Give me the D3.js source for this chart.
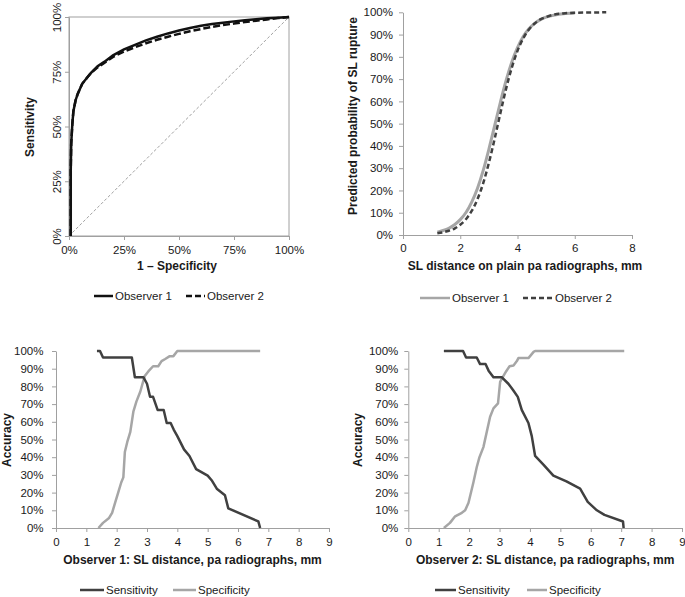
<!DOCTYPE html>
<html><head><meta charset="utf-8">
<script src="https://cdn.jsdelivr.net/npm/d3@7"></script>
<style>
body{margin:0;background:#fff;}
svg{display:block;font-family:"Liberation Sans",Arial,sans-serif;}
.tick text{font-size:11.5px;fill:#1a1a1a;}
.title{font-size:12px;font-weight:bold;fill:#1a1a1a;}
.leg{font-size:11.5px;fill:#1a1a1a;}
</style></head>
<body>
<svg id="c" width="685" height="597"></svg>
<script>
// ---------- Panel A: ROC curves ----------
const rocFpr1 = [0.8,0.8,1.0,1.5,2,3,4,6,8,10,13,16,20,25,30,35,40,45,50,55,60,65,70,75,80,85,90,95,100];
const rocTpr1 = [0,30,42,51,57,62,65,69.5,72,74.5,77.5,79.5,82.5,85.2,87.3,89.3,91,92.5,93.8,95,96,96.8,97.4,98,98.5,99,99.4,99.7,100];
const rocFpr2 = [0.8,0.8,1.0,1.5,2,3,4,6,8,10,13,16,20,25,30,35,40,45,50,55,60,65,70,75,80,85,90,95,100];
const rocTpr2 = [0,30,42,51,57,62,65,69.5,72,74.5,77,79,81.8,84.2,86.2,88,89.6,91,92.3,93.5,94.5,95.5,96.3,97,97.7,98.3,98.9,99.5,100];
const pctTicksA = [0,25,50,75,100];

// ---------- Panel B: predicted probability ----------
const probX1 = [1.2,1.4,1.6,1.8,2.0,2.2,2.4,2.6,2.8,3.0,3.2,3.4,3.6,3.8,4.0,4.2,4.4,4.6,4.8,5.0,5.3,5.6,6.0];
const probY1 = [1.3,2.0,3.0,4.6,6.9,10.1,14.8,20.9,28.9,38.5,49.0,59.5,69.3,77.6,84.1,89.1,92.6,95.0,96.7,97.8,98.8,99.4,99.7];
const probX2 = [1.2,1.4,1.6,1.8,2.0,2.2,2.4,2.6,2.8,3.0,3.2,3.4,3.6,3.8,4.0,4.2,4.4,4.6,4.8,5.0,5.3,5.6,6.0,6.5,7.1];
const probY2 = [0.8,1.2,1.9,2.9,4.6,7.1,10.8,16.0,23.2,32.4,43.1,54.6,65.6,75.1,82.7,88.3,92.3,95.0,96.8,97.9,99.0,99.5,99.8,99.9,100];
const distTicksB = [0,2,4,6,8];
const pctTicks10 = [0,10,20,30,40,50,60,70,80,90,100];

// ---------- Panel C: Observer 1 accuracy ----------
const sensX1 = [1.35,1.45,1.55,2.5,2.6,2.88,3.0,3.1,3.2,3.35,3.55,3.65,3.78,3.88,4.0,4.22,4.4,4.62,5.0,5.13,5.3,5.57,5.68,6.67,6.73];
const sensY1 = [100,100,96.3,96.3,85.2,85.2,81.5,74.1,74.1,66.7,66.7,59.3,59.3,55.6,51.9,44.4,40.7,33.3,29.6,27.0,22.2,18.5,11.1,3.7,0];
const specX1 = [1.4,1.55,1.75,1.85,1.95,2.05,2.15,2.22,2.27,2.35,2.45,2.55,2.65,2.78,2.92,3.05,3.2,3.37,3.48,3.6,3.75,3.87,4.0,6.73];
const specY1 = [0,2.9,5.7,8.6,14.3,20,25.7,28.6,42.9,48.6,54.3,65.7,71.4,77.1,85.7,88.6,91.4,91.4,94.3,95.5,97.1,97.1,100,100];

// ---------- Panel D: Observer 2 accuracy ----------
const sensX2 = [1.17,1.8,1.9,2.25,2.36,2.54,2.64,2.8,3.07,3.29,3.45,3.6,3.73,3.95,4.06,4.17,4.45,4.77,5.2,5.65,5.9,6.2,6.45,7.06,7.08];
const sensY2 = [100,100,96.3,96.3,92.6,92.6,88.9,85.2,85.2,81.5,77.8,74.1,66.7,59.3,51.9,40.7,35.7,29.6,26.3,22.2,14.8,10.0,7.4,3.7,0];
const specX2 = [1.17,1.37,1.54,1.76,1.87,1.98,2.14,2.25,2.34,2.47,2.69,2.8,2.95,3.02,3.12,3.22,3.33,3.46,3.57,3.62,3.95,4.12,4.17,7.1];
const specY2 = [0,2.9,6.6,8.6,10,14.3,25.7,34.3,40,45.7,62.9,67.6,70.4,82.6,85.7,88.6,91.4,91.8,94.3,96,96,99.5,100,100];
const distTicksCD = [0,1,2,3,4,5,6,7,8,9];

const pct = d => d + "%";
const svg = d3.select("#c");
const AX = "#a0a0a0";
const DARK = "#404040", LIGHT = "#a6a6a6";

function zip(xs, ys){ return xs.map((x,i)=>[x, ys[i]]); }
function styleAxis(g){
  g.selectAll("path.domain").attr("stroke", AX);
  g.selectAll(".tick line").attr("stroke", AX);
  g.attr("font-family", null).attr("font-size", null);
}
function legendItem(x1, x2, y, color, dash, label, width){
  svg.append("line").attr("x1",x1).attr("x2",x2).attr("y1",y).attr("y2",y)
    .attr("stroke",color).attr("stroke-width",width||2.5).attr("stroke-dasharray",dash||null);
  svg.append("text").attr("class","leg").attr("x",x2+2).attr("y",y+4).text(label);
}
function ytitle(x, y, t){
  svg.append("text").attr("class","title").attr("text-anchor","middle")
    .attr("transform",`translate(${x},${y}) rotate(-90)`).text(t);
}
function xtitle(x, y, t){
  svg.append("text").attr("class","title").attr("text-anchor","middle").attr("x",x).attr("y",y).text(t);
}

// ===== Panel A =====
{
  const x = d3.scaleLinear([0,100],[69,289]);
  const y = d3.scaleLinear([0,100],[236,17]);
  svg.append("rect").attr("x",x(0)).attr("y",y(100)).attr("width",x(100)-x(0)).attr("height",y(0)-y(100))
    .attr("fill","none").attr("stroke",AX);
  const gx = svg.append("g").attr("transform",`translate(0,${y(0)})`)
    .call(d3.axisBottom(x).tickValues(pctTicksA).tickFormat(pct).tickSize(4).tickSizeOuter(0).tickPadding(6));
  styleAxis(gx);
  const gy = svg.append("g").attr("transform",`translate(${x(0)},0)`)
    .call(d3.axisLeft(y).tickValues(pctTicksA).tickFormat(pct).tickSize(4).tickSizeOuter(0));
  styleAxis(gy);
  gy.selectAll(".tick text").attr("x",0).attr("y",-8).attr("dy",0).attr("text-anchor","middle")
    .attr("transform","rotate(-90)");
  svg.append("line").attr("x1",x(0)).attr("y1",y(0)).attr("x2",x(100)).attr("y2",y(100))
    .attr("stroke","#888").attr("stroke-width",0.8).attr("stroke-dasharray","3,2");
  const lineV = d3.line().x(d=>x(d[0])).y(d=>y(d[1])).curve(d3.curveLinear);
  svg.append("path").attr("d", lineV(zip(rocFpr2, rocTpr2))).attr("fill","none")
    .attr("stroke","#111").attr("stroke-width",2.5).attr("stroke-dasharray","7,3");
  svg.append("path").attr("d", lineV(zip(rocFpr1, rocTpr1))).attr("fill","none")
    .attr("stroke","#111").attr("stroke-width",2.5);
  xtitle(177, 270, "1 – Specificity");
  ytitle(34, 127, "Sensitivity");
  legendItem(94, 113, 296, "#111", null, "Observer 1");
  legendItem(186, 205, 296, "#111", "6,3", "Observer 2");
}

// ===== Panel B =====
{
  const x = d3.scaleLinear([0,8],[403,632]);
  const y = d3.scaleLinear([0,100],[235,12.3]);
  const gx = svg.append("g").attr("transform",`translate(0,${y(0)})`)
    .call(d3.axisBottom(x).tickValues(distTicksB).tickSize(4).tickSizeOuter(0).tickPadding(5));
  styleAxis(gx);
  const gy = svg.append("g").attr("transform",`translate(${x(0)},0)`)
    .call(d3.axisLeft(y).tickValues(pctTicks10).tickFormat(pct).tickSize(4).tickSizeOuter(0).tickPadding(6));
  styleAxis(gy);
  const line = d3.line().x(d=>x(d[0])).y(d=>y(d[1])).curve(d3.curveMonotoneX);
  svg.append("path").attr("d", line(zip(probX1, probY1))).attr("fill","none")
    .attr("stroke",LIGHT).attr("stroke-width",3);
  svg.append("path").attr("d", line(zip(probX2, probY2))).attr("fill","none")
    .attr("stroke",DARK).attr("stroke-width",2.5).attr("stroke-dasharray","5,3");
  xtitle(525, 270, "SL distance on plain pa radiographs, mm");
  ytitle(357, 116, "Predicted probability of SL rupture");
  legendItem(420, 450, 298, LIGHT, null, "Observer 1");
  legendItem(523, 553, 298, DARK, "5,3", "Observer 2");
}

// ===== Panels C & D =====
function accPanel(x0, x9, padY, sx, sy, px, py, xt, ytx, legX){
  const x = d3.scaleLinear([0,9],[x0,x9]);
  const y = d3.scaleLinear([0,100],[528,351]);
  const gx = svg.append("g").attr("transform",`translate(0,${y(0)})`)
    .call(d3.axisBottom(x).tickValues(distTicksCD).tickSize(4).tickSizeOuter(0).tickPadding(5.5));
  styleAxis(gx);
  const gy = svg.append("g").attr("transform",`translate(${x(0)},0)`)
    .call(d3.axisLeft(y).tickValues(pctTicks10).tickFormat(pct).tickSize(4).tickSizeOuter(0).tickPadding(padY));
  styleAxis(gy);
  const line = d3.line().x(d=>x(d[0])).y(d=>y(d[1]));
  svg.append("path").attr("d", line(zip(px, py))).attr("fill","none")
    .attr("stroke",LIGHT).attr("stroke-width",2.5).attr("stroke-linejoin","round");
  svg.append("path").attr("d", line(zip(sx, sy))).attr("fill","none")
    .attr("stroke",DARK).attr("stroke-width",2.5).attr("stroke-linejoin","round");
  xtitle((x0+x9)/2, 564, xt);
  ytitle(ytx, 440, "Accuracy");
  legendItem(legX[0], legX[1], 590, DARK, null, "Sensitivity");
  legendItem(legX[2], legX[3], 590, LIGHT, null, "Specificity");
}
accPanel(56, 329, 8.5, sensX1, sensY1, specX1, specY1, "Observer 1: SL distance, pa radiographs, mm", 10.5, [80,104,173,196]);
accPanel(408.3, 682, 6, sensX2, sensY2, specX2, specY2, "Observer 2: SL distance, pa radiographs, mm", 362, [435,456,527,547]);
</script>
</body></html>
